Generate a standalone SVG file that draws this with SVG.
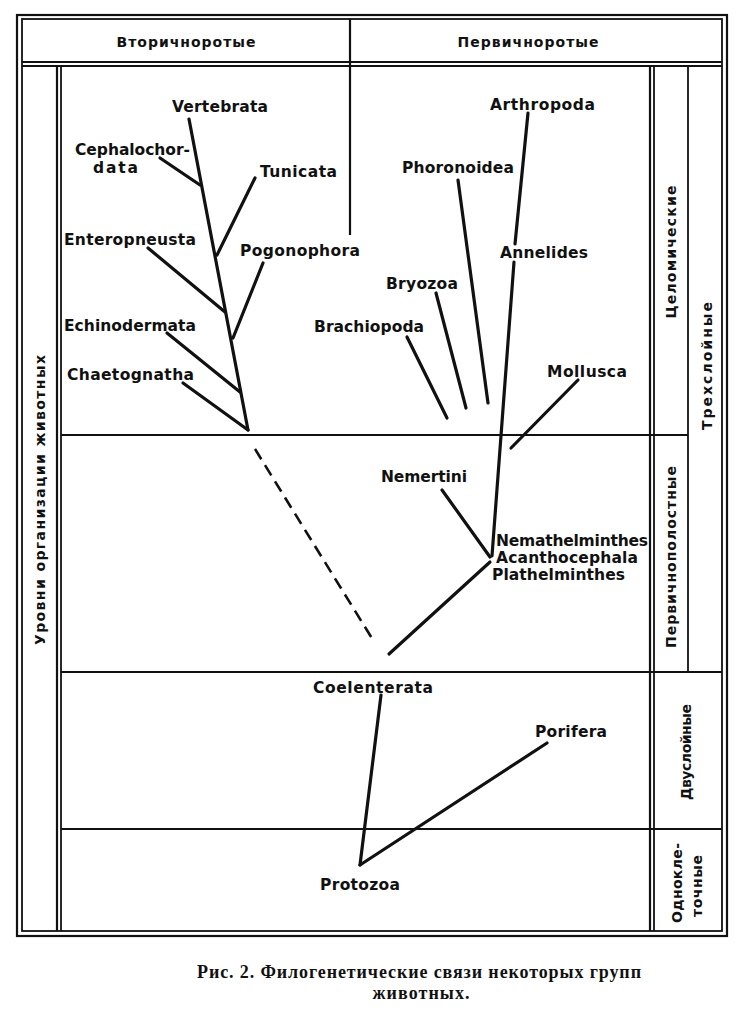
<svg xmlns="http://www.w3.org/2000/svg" width="740" height="1010" viewBox="0 0 740 1010">
<style>
.frame{fill:none;stroke:#111;stroke-width:2.2}
.thin{fill:none;stroke:#111;stroke-width:1.8}
.br{fill:none;stroke:#111;stroke-width:3.2;stroke-linecap:round}
.dash{fill:none;stroke:#111;stroke-width:2.6;stroke-dasharray:12 7}
.lbl{font-family:"DejaVu Sans",sans-serif;font-weight:bold;font-size:15.5px;fill:#111}
.hdr{font-family:"DejaVu Sans",sans-serif;font-weight:bold;font-size:14px;fill:#111}
.cap{font-family:"Liberation Serif",serif;font-size:18px;font-weight:bold;fill:#111}
</style>
<rect width="740" height="1010" fill="#fff"/>
<g id="frame">
<rect class="frame" x="17" y="15" width="710" height="921"/>
<rect class="thin" x="22" y="19" width="700" height="912"/>
<line class="frame" x1="22" y1="62" x2="722" y2="62"/>
<line class="thin" x1="22" y1="66" x2="722" y2="66"/>
<line class="frame" x1="350" y1="19" x2="350" y2="235"/>
<line class="frame" x1="57" y1="66" x2="57" y2="931"/>
<line class="thin" x1="61" y1="66" x2="61" y2="931"/>
<line class="frame" x1="650" y1="66" x2="650" y2="931"/>
<line class="thin" x1="654" y1="66" x2="654" y2="931"/>
<line class="thin" x1="688" y1="66" x2="688" y2="672"/>
<line class="frame" x1="61" y1="435" x2="688" y2="435"/>
<line class="frame" x1="61" y1="672" x2="722" y2="672"/>
<line class="frame" x1="61" y1="829" x2="722" y2="829"/>
</g>
<g id="headers">
<text class="hdr" x="186" y="47" text-anchor="middle" textLength="139">Вторичноротые</text>
<text class="hdr" x="528" y="47" text-anchor="middle" textLength="141">Первичноротые</text>
<text class="hdr" transform="translate(45,500) rotate(-90)" text-anchor="middle" textLength="290">Уровни организации животных</text>
<text class="hdr" transform="translate(676,252) rotate(-90)" text-anchor="middle" textLength="133">Целомические</text>
<text class="hdr" transform="translate(712,366) rotate(-90)" text-anchor="middle" textLength="128">Трехслойные</text>
<text class="hdr" transform="translate(676,557) rotate(-90)" text-anchor="middle" textLength="182">Первичнополостные</text>
<text class="hdr" transform="translate(691,752) rotate(-90)" text-anchor="middle" textLength="96">Двуслойные</text>
<text class="hdr" transform="translate(682,883) rotate(-90)" text-anchor="middle" textLength="80">Однокле-</text>
<text class="hdr" transform="translate(702,886) rotate(-90)" text-anchor="middle" textLength="62">точные</text>
</g>
<g id="connectors">
<line class="br" x1="189" y1="119" x2="248" y2="430"/>
<line class="br" x1="160" y1="158" x2="200" y2="185"/>
<line class="br" x1="255" y1="178" x2="217" y2="255"/>
<line class="br" x1="148" y1="248" x2="225" y2="312"/>
<line class="br" x1="263" y1="263" x2="233" y2="338"/>
<line class="br" x1="167" y1="333" x2="240" y2="392"/>
<line class="br" x1="183" y1="383" x2="248" y2="430"/>
<line class="dash" x1="255" y1="449" x2="373" y2="640"/>
<line class="br" x1="528" y1="113" x2="515" y2="244"/>
<line class="br" x1="514" y1="262" x2="492" y2="556"/>
<line class="br" x1="458" y1="180" x2="488" y2="403"/>
<line class="br" x1="436" y1="293" x2="466" y2="408"/>
<line class="br" x1="407" y1="337" x2="447" y2="418"/>
<line class="br" x1="578" y1="380" x2="511" y2="448"/>
<line class="br" x1="442" y1="490" x2="490" y2="557"/>
<line class="br" x1="490" y1="562" x2="389" y2="654"/>
<line class="br" x1="381" y1="695" x2="360" y2="865"/>
<line class="br" x1="547" y1="743" x2="360" y2="865"/>
</g>
<g id="n-vertebrata"><text class="lbl" x="172" y="112" textLength="96">Vertebrata</text></g>
<g id="n-cephalochordata"><text class="lbl" x="75" y="155" textLength="115">Cephalochor-</text><text class="lbl" x="93" y="173" textLength="45">data</text></g>
<g id="n-tunicata"><text class="lbl" x="260" y="177" textLength="77">Tunicata</text></g>
<g id="n-enteropneusta"><text class="lbl" x="64" y="245" textLength="132">Enteropneusta</text></g>
<g id="n-pogonophora"><text class="lbl" x="240" y="256" textLength="120">Pogonophora</text></g>
<g id="n-echinodermata"><text class="lbl" x="64" y="331" textLength="132">Echinodermata</text></g>
<g id="n-chaetognatha"><text class="lbl" x="67" y="380" textLength="127">Chaetognatha</text></g>
<g id="n-arthropoda"><text class="lbl" x="490" y="110" textLength="105">Arthropoda</text></g>
<g id="n-phoronoidea"><text class="lbl" x="402" y="173" textLength="112">Phoronoidea</text></g>
<g id="n-annelides"><text class="lbl" x="500" y="258" textLength="88">Annelides</text></g>
<g id="n-bryozoa"><text class="lbl" x="386" y="289" textLength="72">Bryozoa</text></g>
<g id="n-brachiopoda"><text class="lbl" x="314" y="332" textLength="110">Brachiopoda</text></g>
<g id="n-mollusca"><text class="lbl" x="547" y="377" textLength="80">Mollusca</text></g>
<g id="n-nemertini"><text class="lbl" x="381" y="482" textLength="86">Nemertini</text></g>
<g id="n-worms"><text class="lbl" x="496" y="546" textLength="152">Nemathelminthes</text><text class="lbl" x="496" y="563" textLength="142">Acanthocephala</text><text class="lbl" x="492" y="580" textLength="133">Plathelminthes</text></g>
<g id="n-coelenterata"><text class="lbl" x="313" y="693" textLength="120">Coelenterata</text></g>
<g id="n-porifera"><text class="lbl" x="535" y="737" textLength="72">Porifera</text></g>
<g id="n-protozoa"><text class="lbl" x="320" y="890" textLength="80">Protozoa</text></g>
<g id="caption">
<text class="cap" x="197" y="978" textLength="444">Рис. 2.  Филогенетические связи некоторых групп</text>
<text class="cap" x="421" y="999" text-anchor="middle" textLength="97">животных.</text>
</g>
</svg>
